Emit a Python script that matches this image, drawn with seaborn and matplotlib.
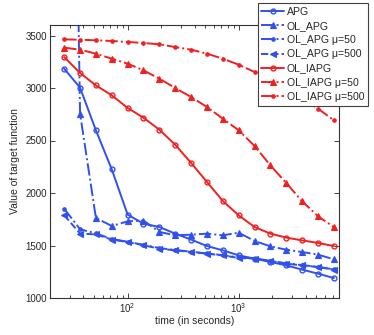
import numpy as np
import pandas as pd
import matplotlib
matplotlib.use("Agg")
import matplotlib.pyplot as plt
import seaborn as sns

# time points (seconds)
time_s = [26.8, 37.3, 51.8, 72.0, 100.0, 138.9, 193.1, 268.3, 372.8, 517.9,
          719.7, 1000.0, 1389.5, 1930.7, 2682.7, 3727.6, 5179.5, 7196.9]

apg = [3184, 3003, 2597, 2225, 1794, 1708, 1676, 1613, 1556, 1495,
       1454, 1406, 1375, 1343, 1311, 1270, 1232, 1190]
ol_apg = [12000, 2756, 1762, 1686, 1730, 1738, 1629, 1597, 1603, 1613,
          1597, 1622, 1543, 1492, 1460, 1438, 1413, 1368]
ol_apg_mu50 = [1851, 1655, 1615, 1562, 1536, 1506, 1476, 1457, 1441, 1424,
               1408, 1386, 1376, 1354, 1330, 1313, 1297, 1272]
ol_apg_mu500 = [1790, 1613, 1606, 1556, 1533, 1502, 1470, 1454, 1438, 1422,
                1406, 1381, 1375, 1352, 1327, 1311, 1295, 1270]
ol_iapg = [3295, 3143, 3025, 2930, 2810, 2717, 2603, 2460, 2286, 2105,
           1924, 1787, 1676, 1613, 1575, 1549, 1524, 1495]
ol_iapg_mu50 = [3384, 3365, 3327, 3279, 3232, 3168, 3089, 3000, 2914, 2819,
                2708, 2597, 2448, 2263, 2095, 1921, 1778, 1676]
ol_iapg_mu500 = [3463, 3460, 3454, 3448, 3438, 3429, 3416, 3390, 3365, 3327,
                 3279, 3222, 3152, 3070, 2985, 2900, 2803, 2692]

labels = ["APG", "OL_APG", "OL_APG \u03bc=50", "OL_APG \u03bc=500",
          "OL_IAPG", "OL_IAPG \u03bc=50", "OL_IAPG \u03bc=500"]
series = [apg, ol_apg, ol_apg_mu50, ol_apg_mu500, ol_iapg, ol_iapg_mu50, ol_iapg_mu500]

BLUE = "#3050F0"
RED = "#F02020"
styles = [
    dict(color=BLUE, ls="-", marker="o", ms=3.5, mfc="none", mew=1.0),
    dict(color=BLUE, ls="-.", marker="^", ms=4.5, mfc=BLUE, mew=0.8),
    dict(color=BLUE, ls="-.", marker=".", ms=5, mfc=BLUE, mew=0.8),
    dict(color=BLUE, ls="--", marker="<", ms=4.5, mfc=BLUE, mew=0.8),
    dict(color=RED, ls="-", marker="o", ms=3.5, mfc="none", mew=1.0),
    dict(color=RED, ls="-.", marker="^", ms=4.5, mfc=RED, mew=0.8),
    dict(color=RED, ls="-.", marker=".", ms=5, mfc=RED, mew=0.8),
]

sns.set_style("ticks")
plt.rcParams["font.family"] = ["Liberation Sans", "DejaVu Sans"]

fig = plt.figure(figsize=(3.74, 3.35), dpi=100)
ax = fig.add_axes([50 / 374, 1 - 298 / 335, (339 - 50) / 374, (298 - 25) / 335])

for lab, vals, st in zip(labels, series, styles):
    df = pd.DataFrame({"time": time_s, "value": vals})
    sns.lineplot(data=df, x="time", y="value", ax=ax, label=lab, sort=False,
                 color=st["color"], linestyle=st["ls"], marker=st["marker"],
                 markersize=st["ms"], markerfacecolor=st["mfc"],
                 markeredgecolor=st["color"], markeredgewidth=st["mew"],
                 linewidth=1.4)

ax.set_xscale("log")
ax.set_xlim(20, 8000)
ax.set_ylim(1000, 3600)
ax.set_yticks([1000, 1500, 2000, 2500, 3000, 3500])
ax.set_xlabel("time (in seconds)", fontsize=7.5, labelpad=1)
ax.set_ylabel("Value of target function", fontsize=7.5, labelpad=4)
ax.tick_params(which="both", direction="in", top=True, right=True,
               labelsize=7, colors="0.15", width=0.6)
ax.tick_params(which="major", length=3.5, pad=2)
ax.tick_params(which="minor", length=2)
for sp in ax.spines.values():
    sp.set_linewidth(0.8)
    sp.set_color("0.2")

leg = ax.legend(loc="upper right", bbox_to_anchor=(368 / 374, 1 - 3 / 335),
                bbox_transform=fig.transFigure, fontsize=7.6, frameon=True,
                fancybox=False, edgecolor="0.25", framealpha=1,
                handlelength=2.1, handletextpad=0.3, labelspacing=0.4,
                borderpad=0.35, borderaxespad=0)
leg.get_frame().set_linewidth(0.8)

fig.savefig("out.png", dpi=100)
